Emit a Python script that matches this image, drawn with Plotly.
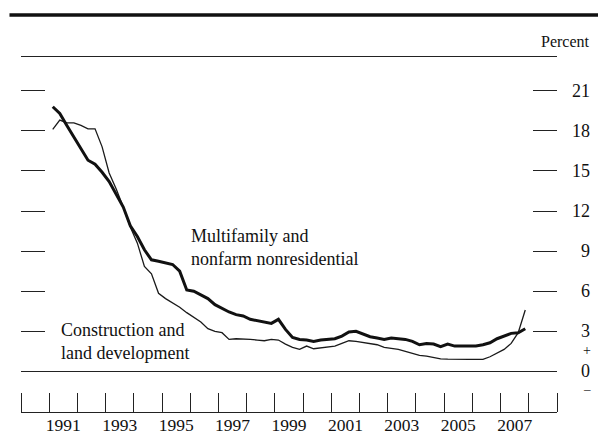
import plotly.graph_objects as go

# quarterly, 1991Q1 - 2007Q4
years = [y for y in range(1991, 2008) for _ in range(4)]
qtrs = [1, 2, 3, 4] * 17

multifamily = [
    19.8, 19.3, 18.4, 17.5, 16.6, 15.8, 15.5, 14.9,
    14.2, 13.3, 12.3, 10.9, 10.1, 9.1, 8.35, 8.25,
    8.15, 8.0, 7.5, 6.1, 6.0, 5.7, 5.45, 5.0,
    4.7, 4.45, 4.25, 4.15, 3.9, 3.8, 3.7, 3.6,
    3.9, 3.15, 2.55, 2.4, 2.35, 2.25, 2.35, 2.4,
    2.45, 2.65, 2.95, 3.0, 2.8, 2.6, 2.5, 2.4,
    2.5, 2.45, 2.4, 2.25, 2.0, 2.1, 2.05, 1.85,
    2.05, 1.9, 1.9, 1.9, 1.9, 2.0, 2.15, 2.45,
    2.65, 2.85, 2.9, 3.2,
]
construction = [
    18.1, 18.8, 18.6, 18.6, 18.4, 18.15, 18.15, 16.8,
    14.85, 13.65, 12.3, 10.8, 9.6, 7.85, 7.3, 5.85,
    5.45, 5.15, 4.8, 4.4, 4.05, 3.7, 3.2, 3.0,
    2.9, 2.4, 2.45, 2.45, 2.4, 2.35, 2.3, 2.4,
    2.35, 2.05, 1.8, 1.65, 1.9, 1.7, 1.75, 1.8,
    1.9, 2.1, 2.3, 2.25, 2.15, 2.05, 2.0, 1.8,
    1.75, 1.65, 1.5, 1.35, 1.2, 1.15, 1.05, 0.95,
    0.92, 0.9, 0.9, 0.9, 0.9, 0.9, 1.1, 1.4,
    1.65, 2.1, 2.9, 4.6,
]

y_ticks = [0, 3, 6, 9, 12, 15, 18, 21]
year_labels = list(range(1991, 2008, 2))

x = [y + (q - 1) / 4 + 0.125 for y, q in zip(years, qtrs)]
FONT = "Liberation Serif, Times New Roman, serif"

fig = go.Figure()
fig.add_trace(go.Scatter(x=x, y=construction, mode="lines", name="Construction and land development",
                         line=dict(color="#1a1a1a", width=1.3)))
fig.add_trace(go.Scatter(x=x, y=multifamily, mode="lines", name="Multifamily and nonfarm nonresidential",
                         line=dict(color="#111111", width=3)))

fig.update_layout(
    width=598, height=436,
    margin=dict(l=21, r=41, t=57, b=24),
    paper_bgcolor="white", plot_bgcolor="white",
    showlegend=False, hovermode=False,
    font=dict(family=FONT, size=18, color="#111"),
    xaxis=dict(
        range=[1990, 2009], showgrid=False, zeroline=False, automargin=False,
        showline=True, linecolor="#222", linewidth=1.2, mirror=True,
        tickmode="array", tickvals=[y + 0.5 for y in year_labels],
        ticktext=[str(y) for y in year_labels], ticks="", ticklen=0,
        ticklabelstandoff=-3,
        tickfont=dict(family=FONT, size=17.5, color="#111"),
        minor=dict(tickmode="linear", tick0=1990, dtick=1, ticks="inside",
                   ticklen=19, tickcolor="#222", tickwidth=1.2, showgrid=False),
    ),
    yaxis=dict(
        range=[-3.03, 23.52], showgrid=False, showline=False, automargin=False,
        zeroline=True, zerolinecolor="#222", zerolinewidth=1.3,
        tickmode="array", tickvals=y_ticks, ticks="inside", ticklen=24,
        tickcolor="#222", tickwidth=1.2, mirror="ticks", showticklabels=False,
    ),
)

# right-side tick labels, right aligned
for v in y_ticks:
    fig.add_annotation(x=1.0653, xref="paper", y=v, yref="y", text=str(v),
                       xanchor="right", yanchor="middle", showarrow=False,
                       font=dict(family=FONT, size=18, color="#111"))
fig.add_annotation(x=1.0653, xref="paper", y=1.6, yref="y", text="+",
                   xanchor="right", yanchor="middle", showarrow=False, borderpad=0,
                   font=dict(family=FONT, size=14, color="#111"))
fig.add_annotation(x=1.0653, xref="paper", y=-1.3, yref="y", text="–",
                   xanchor="right", yanchor="middle", showarrow=False, borderpad=0,
                   font=dict(family=FONT, size=13, color="#111"))
fig.add_annotation(x=1.0653, xref="paper", y=1.045, yref="paper", text="Percent",
                   xanchor="right", yanchor="middle", showarrow=False,
                   font=dict(family=FONT, size=16, color="#111"))

fig.add_annotation(x=1995.95, y=9.24, text="Multifamily and<br>nonfarm nonresidential",
                   xanchor="left", yanchor="middle", align="left", showarrow=False)
fig.add_annotation(x=1991.35, y=2.24, text="Construction and<br>land development",
                   xanchor="left", yanchor="middle", align="left", showarrow=False)

# heavy rule across the top
fig.add_shape(type="line", xref="paper", yref="paper", x0=-0.0215, x1=1.08, y0=1.118, y1=1.118,
              line=dict(color="#111", width=3.5))

fig.write_html("out.html", config={"displayModeBar": False},
               post_script="document.body.style.margin='0';")
